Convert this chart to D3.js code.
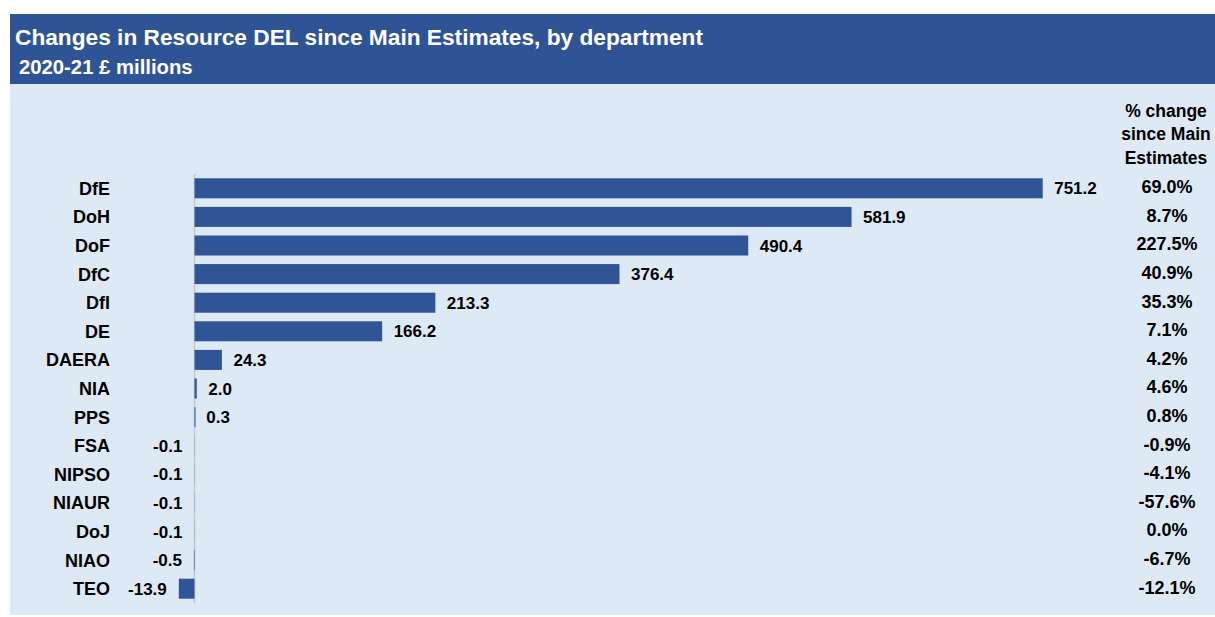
<!DOCTYPE html>
<html>
<head>
<meta charset="utf-8">
<script src="https://cdn.jsdelivr.net/npm/d3@7"></script>
<style>
  body { margin: 0; background: #fff; }
  svg text { font-family: "Liberation Sans", Arial, sans-serif; font-weight: bold; }
</style>
</head>
<body>
<div class="chart-area"></div>
<script>
const width = 1215
const height = 617

// data
const departments = ["DfE", "DoH", "DoF", "DfC", "DfI", "DE", "DAERA", "NIA", "PPS", "FSA", "NIPSO", "NIAUR", "DoJ", "NIAO", "TEO"]
const changes = [751.2, 581.9, 490.4, 376.4, 213.3, 166.2, 24.3, 2.0, 0.3, -0.1, -0.1, -0.1, -0.1, -0.5, -13.9]
const pctChange = [69.0, 8.7, 227.5, 40.9, 35.3, 7.1, 4.2, 4.6, 0.8, -0.9, -4.1, -57.6, 0.0, -6.7, -12.1]
const title = "Changes in Resource DEL since Main Estimates, by department"
const subtitle = "2020-21 £ millions"
const pctHeader = ["% change", "since Main", "Estimates"]

const rows = departments.map((d, i) => ({ dept: d, value: changes[i], pct: pctChange[i] }))

// plain hyphen minus like the original
const locale = d3.formatLocale({ decimal: ".", thousands: ",", grouping: [3], currency: ["£", ""], minus: "-" })
const fmt = locale.format(".1f")

const svg = d3.select(".chart-area").append("svg")
    .attr("width", width)
    .attr("height", height)
    .attr("viewBox", [0, 0, width, height])

// background panels
svg.append("rect")
    .attr("x", 10).attr("y", 84)
    .attr("width", width - 10).attr("height", 531)
    .attr("fill", "#DDE9F5")
svg.append("rect")
    .attr("x", 10).attr("y", 14)
    .attr("width", width - 10).attr("height", 70)
    .attr("fill", "#2F5496")

svg.append("text")
    .attr("x", 15).attr("y", 45)
    .attr("fill", "#fff")
    .attr("font-size", 22.7)
    .text(title)
svg.append("text")
    .attr("x", 19).attr("y", 74)
    .attr("fill", "#fff")
    .attr("font-size", 20.3)
    .text(subtitle)

const x = d3.scaleLinear()
    .domain([0, 751.2])
    .range([194.5, 1042.7])

const y = d3.scaleBand()
    .domain(departments)
    .range([174, 603])
    .paddingInner(0.3)
    .paddingOuter(0.15)

// zero line
svg.append("line")
    .attr("x1", x(0)).attr("x2", x(0))
    .attr("y1", y.range()[0]).attr("y2", y.range()[1])
    .attr("stroke", "#C3C7CE")
    .attr("stroke-width", 1.5)

svg.selectAll("rect.bar")
    .data(rows)
    .enter()
    .append("rect")
    .attr("class", "bar")
    .attr("x", d => x(Math.min(0, d.value)))
    .attr("y", d => y(d.dept))
    .attr("width", d => Math.max(Math.abs(x(d.value) - x(0)), d.value > 0 ? 1 : 0))
    .attr("height", y.bandwidth())
    .attr("fill", "#2F5597")

// department names
svg.selectAll("text.cat")
    .data(rows)
    .enter()
    .append("text")
    .attr("class", "cat")
    .attr("x", 110)
    .attr("y", d => y(d.dept) + y.bandwidth() / 2)
    .attr("dy", "0.36em")
    .attr("text-anchor", "end")
    .attr("font-size", 18)
    .attr("fill", "#000")
    .text(d => d.dept)

// value labels
svg.selectAll("text.val")
    .data(rows)
    .enter()
    .append("text")
    .attr("class", "val")
    .attr("x", d => d.value >= 0 ? x(d.value) + 11.5 : x(d.value) - 12)
    .attr("y", d => y(d.dept) + y.bandwidth() / 2)
    .attr("dy", "0.36em")
    .attr("text-anchor", d => d.value >= 0 ? "start" : "end")
    .attr("font-size", 17)
    .attr("fill", "#000")
    .text(d => fmt(d.value))

// % change column
svg.selectAll("text.pct")
    .data(rows)
    .enter()
    .append("text")
    .attr("class", "pct")
    .attr("x", 1167)
    .attr("y", d => y(d.dept) + y.bandwidth() / 2 - 1.5)
    .attr("dy", "0.36em")
    .attr("text-anchor", "middle")
    .attr("font-size", 18)
    .attr("fill", "#000")
    .text(d => fmt(d.pct) + "%")

svg.selectAll("text.head")
    .data(pctHeader)
    .enter()
    .append("text")
    .attr("class", "head")
    .attr("x", 1166)
    .attr("y", (d, i) => 116.7 + i * 23.6)
    .attr("text-anchor", "middle")
    .attr("font-size", 17.5)
    .attr("fill", "#000")
    .text(d => d)
</script>
</body>
</html>
